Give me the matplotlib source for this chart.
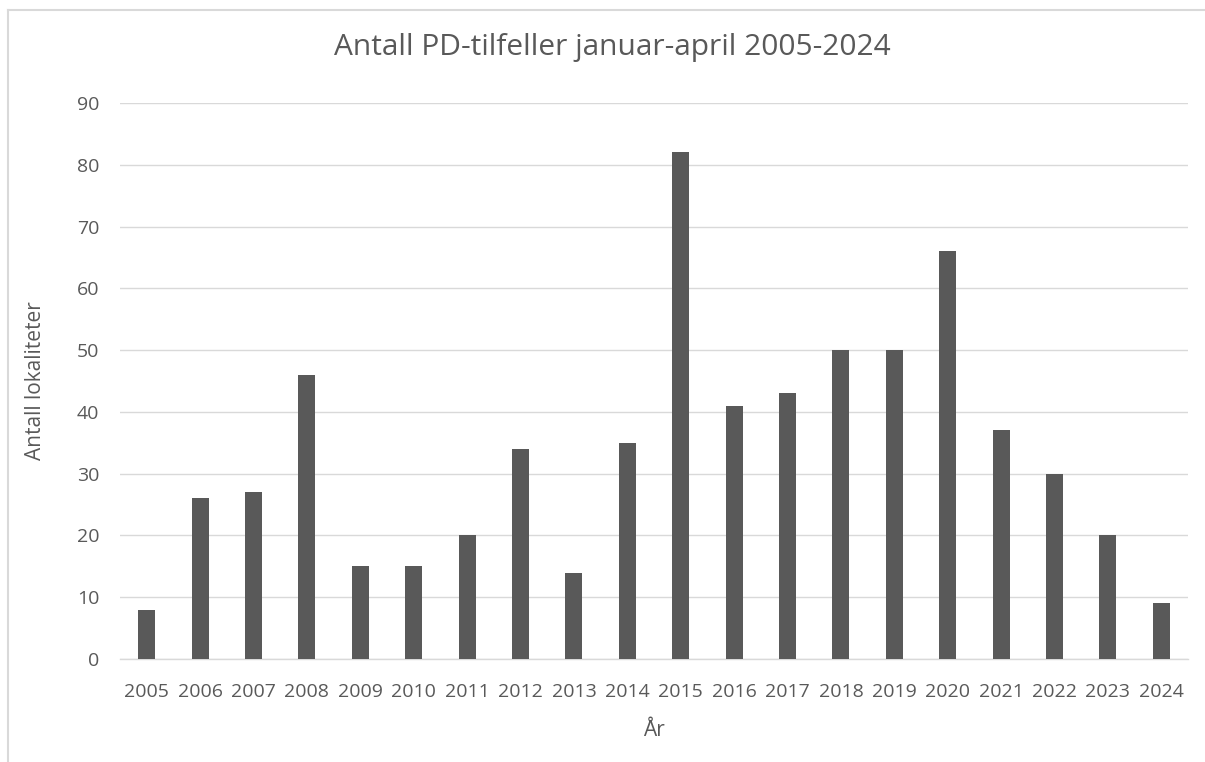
import matplotlib
matplotlib.use('Agg')
import matplotlib.pyplot as plt
from matplotlib.lines import Line2D

years = [str(y) for y in range(2005, 2025)]
counts = [8, 26, 27, 46, 15, 15, 20, 34, 14, 35, 82, 41, 43, 50, 50, 66, 37, 30, 20, 9]
yticks = [0, 10, 20, 30, 40, 50, 60, 70, 80, 90]

text_color = '#595959'
plt.rcParams['font.family'] = ['Open Sans', 'DejaVu Sans']

fig = plt.figure(figsize=(12.05, 7.62), dpi=100)
ax = fig.add_axes([120 / 1205, 1 - 659 / 762, (1188 - 120) / 1205, (659 - 103) / 762])

x = range(len(years))
ax.bar(x, counts, width=0.32, color='#595959', zorder=3)

ax.set_xlim(-0.5, len(years) - 0.5)
ax.set_ylim(0, 90)
ax.set_yticks(yticks)
ax.set_xticks(list(x))
ax.set_xticklabels(years)
ax.grid(axis='y', color='#d9d9d9', lw=1, zorder=0)
for s in ['top', 'right', 'left']:
    ax.spines[s].set_visible(False)
ax.spines['bottom'].set_color('#d9d9d9')
ax.spines['bottom'].set_linewidth(1)
ax.tick_params(length=0, labelsize=14, colors=text_color)
ax.tick_params(axis='x', pad=17)
ax.tick_params(axis='y', pad=15)

ax.set_ylabel('Antall lokaliteter', fontsize=15, color=text_color, labelpad=22)
ax.set_xlabel('År', fontsize=15, color=text_color, labelpad=14)
fig.text(612 / 1205, 1 - 47 / 762, 'Antall PD-tilfeller januar-april 2005-2024',
         ha='center', va='center', fontsize=21.5, color=text_color)

# chart frame: only the top and left edges fall inside the picture
top = 1 - 10 / 762
left = 8 / 1205
fig.lines.append(Line2D([left, 1.0], [top, top], transform=fig.transFigure,
                        color='#d9d9d9', lw=1.5))
fig.lines.append(Line2D([left, left], [0.0, top], transform=fig.transFigure,
                        color='#d9d9d9', lw=1.5))

fig.savefig('out.png', dpi=100)
